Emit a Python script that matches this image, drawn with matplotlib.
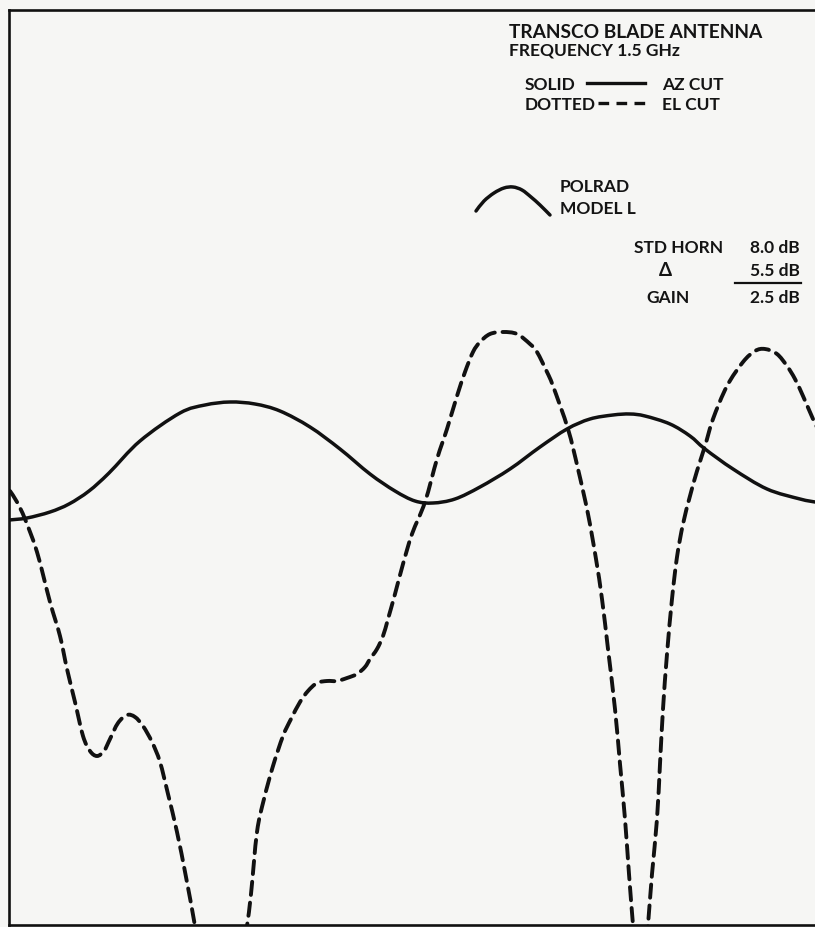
import matplotlib
matplotlib.use("Agg")
import matplotlib.pyplot as plt
from matplotlib.path import Path
from matplotlib.patches import PathPatch
import numpy as np

W, H = 815, 928

# AZ cut (solid) - angle (arbitrary units from left edge) and level (units up from bottom)
az_angle = [0, 18, 41, 60, 80, 100, 131, 171, 196, 221, 246, 271, 301, 331, 361, 386, 406, 424,
            446, 471, 501, 531, 558, 581, 604, 621, 636, 661, 681, 696, 724, 758, 791, 806]
az_level = [405, 407, 413, 421, 434, 452, 484, 512, 520, 523, 521, 514, 498, 476, 451, 434, 424,
            422, 426, 438, 456, 478, 496, 506, 510, 511, 509, 501, 489, 476, 456, 436, 426, 423]

# EL cut (dashed)
el_angle = [1, 8, 16, 28, 41, 51, 58, 66, 74, 81, 88, 95, 101, 109, 118, 126, 134, 143, 151,
            159, 168, 177, 186, 191, 212,
            233, 238, 242, 248, 255, 264, 274, 282, 291, 299, 308, 318, 328, 338, 348, 356, 361,
            368, 374, 379, 386, 394, 403, 416, 428, 438, 448, 456, 464, 471, 481, 494, 508, 521,
            528, 538, 544, 559, 569, 579, 587, 593, 599, 606, 611, 616, 620, 624, 627,
            636, 639, 643, 648, 651, 654, 658, 663, 668, 674, 681, 688, 696, 704, 718, 734, 746,
            756, 768, 778, 786, 794, 804, 809]
el_level = [434, 423, 406, 373, 323, 289, 256, 223, 189, 174, 169, 174, 186, 202, 210, 208, 199,
            183, 163, 131, 93, 48, -1, -34, -120,
            -34, -1, 31, 93, 126, 159, 189, 206, 223, 234, 242, 244, 244, 247, 251, 258, 266,
            276, 289, 306, 331, 361, 391, 423, 466, 496, 529, 553, 573, 583, 591, 593, 591, 581,
            573, 553, 539, 496, 456, 411, 366, 326, 276, 216, 161, 106, 51, 0, -34,
            -34, 0, 51, 106, 161, 216, 271, 326, 368, 401, 429, 454, 479, 506, 539, 563, 574,
            576, 571, 559, 546, 529, 506, 496]

text_col = "#141414"
line_col = "#111111"
bg = "#f6f6f4"


def smooth_path(xs, ys):
    """Catmull-Rom -> cubic Bezier path through the given points."""
    p = np.column_stack([xs, ys]).astype(float)
    n = len(p)
    verts = [p[0]]
    codes = [Path.MOVETO]
    for i in range(n - 1):
        p0 = p[i - 1] if i > 0 else p[i]
        p1, p2 = p[i], p[i + 1]
        p3 = p[i + 2] if i + 2 < n else p[i + 1]
        c1 = p1 + (p2 - p0) / 6.0
        c2 = p2 - (p3 - p1) / 6.0
        verts += [c1, c2, p2]
        codes += [Path.CURVE4] * 3
    return Path(verts, codes)


fig = plt.figure(figsize=(W / 100, H / 100), dpi=100, facecolor=bg)
ax = fig.add_axes([9 / W, 2 / H, 1 - 9 / W + 0.01, (926 - 11) / H])
ax.set_facecolor(bg)
ax.set_xlim(0, 806 + 8.15)
ax.set_ylim(0, 915)
for s in ["left", "top", "bottom"]:
    ax.spines[s].set_linewidth(1.9)
    ax.spines[s].set_color(line_col)
ax.spines["right"].set_visible(False)
ax.set_xticks([])
ax.set_yticks([])

ax.add_patch(PathPatch(smooth_path(az_angle, az_level), facecolor="none", edgecolor=line_col,
                       lw=2.5, joinstyle="round", capstyle="round"))
ax.add_patch(PathPatch(smooth_path(el_angle, el_level), facecolor="none", edgecolor=line_col,
                       lw=2.8, linestyle=(0, (3.4, 2.0)), capstyle="round"))

fam = ["Lato", "DejaVu Sans"]
fs = 12.5


def ftxt(x, y, s, ha="left", size=fs):
    fig.text(x / W, 1 - y / H, s, ha=ha, va="center", fontsize=size, fontweight="bold",
             family=fam, color=text_col)


ftxt(509, 33, "TRANSCO BLADE ANTENNA", size=13.8)
ftxt(509, 51, "FREQUENCY 1.5 GHz")
ftxt(525, 85, "SOLID")
ftxt(662, 85, "AZ CUT")
ftxt(525, 105, "DOTTED")
ftxt(662, 105, "EL CUT")
fig.add_artist(plt.Line2D([587 / W, 645 / W], [1 - 84 / H, 1 - 84 / H], color=line_col, lw=2.4))
fig.add_artist(plt.Line2D([598 / W, 646 / W], [1 - 104 / H, 1 - 104 / H], color=line_col, lw=2.4,
                          dashes=(3.2, 2.2)))

ftxt(560, 187, "POLRAD")
ftxt(560, 209, "MODEL L")
arc_x = np.array([476, 484, 494, 504, 513, 522, 531, 540, 550])
arc_y = np.array([212, 202, 194, 189, 188, 191, 198, 206, 216])
fig.add_artist(PathPatch(smooth_path(arc_x / W, 1 - arc_y / H), facecolor="none",
                         edgecolor=line_col, lw=2.5, capstyle="round",
                         transform=fig.transFigure))

ftxt(723, 248, "STD HORN", ha="right")
ftxt(800, 248, "8.0 dB", ha="right")
ftxt(665, 271, "Δ", ha="center", size=13.5)
ftxt(800, 271, "5.5 dB", ha="right")
ftxt(690, 298, "GAIN", ha="right")
ftxt(800, 298, "2.5 dB", ha="right")
fig.add_artist(plt.Line2D([735 / W, 801 / W], [1 - 284 / H, 1 - 284 / H], color=line_col, lw=1.6))

fig.savefig("out.png", dpi=100, facecolor=bg)
